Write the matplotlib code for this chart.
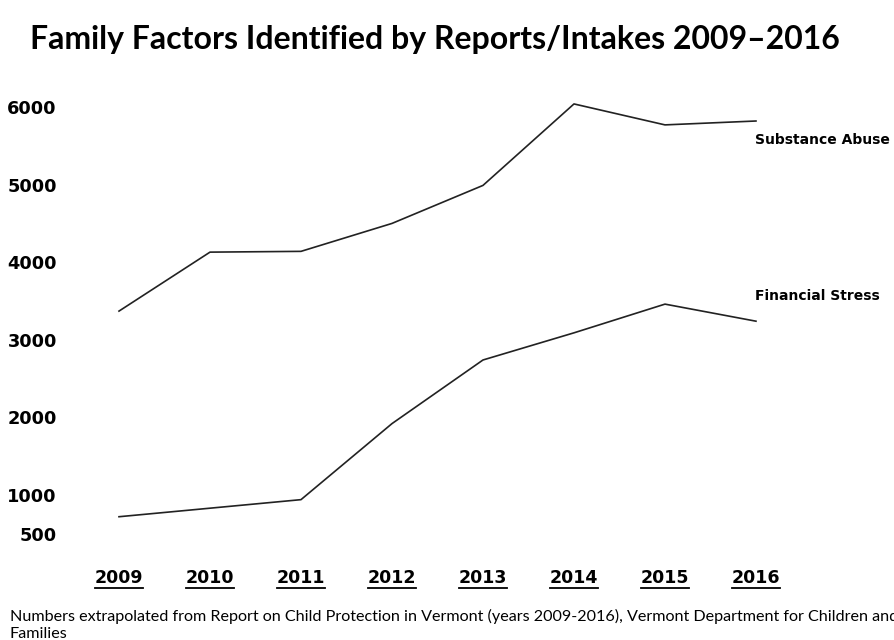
import matplotlib
matplotlib.use("Agg")
import matplotlib.pyplot as plt
from matplotlib.lines import Line2D

years = ["2009", "2010", "2011", "2012", "2013", "2014", "2015", "2016"]
substance_abuse = [3370, 4130, 4140, 4500, 4990, 6040, 5770, 5820]
financial_stress = [720, 830, 940, 1920, 2740, 3090, 3460, 3240]
y_ticks = [500, 1000, 2000, 3000, 4000, 5000, 6000]

fig = plt.figure(figsize=(8.94, 6.4), dpi=100)
ax = fig.add_axes([0.0822, 0.1417, 0.8143, 0.7153])

x = list(range(len(years)))
ax.plot(x, substance_abuse, color="#222222", lw=1.2)
ax.plot(x, financial_stress, color="#222222", lw=1.2)

ax.set_xlim(-0.5, 7.5)
ax.set_ylim(300, 6200)
ax.set_yticks(y_ticks)
ax.set_yticklabels([str(v) for v in y_ticks], fontsize=12.8, fontweight="bold",
                   family="DejaVu Sans")
ax.tick_params(axis="y", length=0, pad=12)
ax.set_xticks([])
for s in ax.spines.values():
    s.set_visible(False)

# year labels under the plot, underlined
year_texts = []
for i, yr in enumerate(years):
    t = ax.text(i, -0.062, yr, transform=ax.get_xaxis_transform(),
                ha="center", va="center", fontsize=12.5, fontweight="bold",
                family="DejaVu Sans")
    year_texts.append(t)

# series labels to the right
ax.text(6.99, 5580, "Substance Abuse", fontsize=10, fontweight="bold",
        family="DejaVu Sans", va="center", ha="left", clip_on=False)
ax.text(6.99, 3570, "Financial Stress", fontsize=10, fontweight="bold",
        family="DejaVu Sans", va="center", ha="left", clip_on=False)

fig.text(0.034, 0.938, "Family Factors Identified by Reports/Intakes 2009\u20132016",
         fontsize=23, fontweight="bold", family="Lato", va="center", ha="left")

fig.text(0.011, 0.036, "Numbers extrapolated from Report on Child Protection in Vermont "
         "(years 2009-2016), Vermont Department for Children and", fontsize=11.6,
         family="Lato", va="center", ha="left")
fig.text(0.011, 0.009, "Families", fontsize=11.6, family="Lato", va="center", ha="left")

fig.canvas.draw()
renderer = fig.canvas.get_renderer()
for t in year_texts:
    bb = t.get_window_extent(renderer)
    fig.add_artist(Line2D([bb.x0 / fig.bbox.width, bb.x1 / fig.bbox.width],
                          [(bb.y0 - 1) / fig.bbox.height] * 2,
                          color="black", lw=1.3, transform=fig.transFigure))

fig.savefig("out.png", dpi=100, facecolor="white")
